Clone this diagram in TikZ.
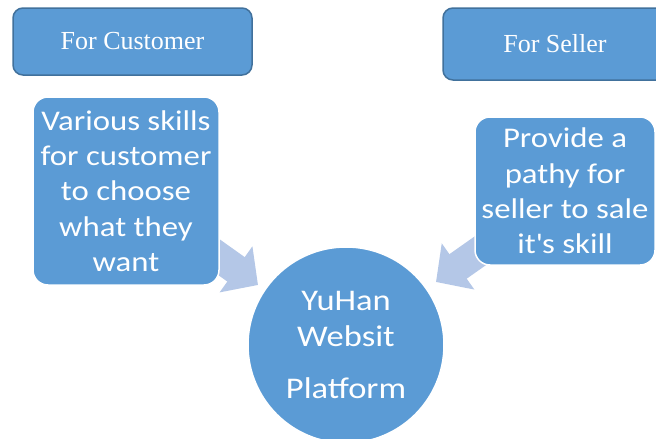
\documentclass[tikz,border=0pt]{standalone}
\usepackage{fontspec}
\setmainfont[FakeStretch=1.15]{Carlito}
\newfontfamily\headfont{Liberation Serif}
\usepackage{tikz}
\usetikzlibrary{backgrounds}
\usetikzlibrary{arrows.meta}
\definecolor{boxblue}{HTML}{5B9BD5}
\definecolor{boxedge}{HTML}{41719C}
\definecolor{arrowblue}{HTML}{B4C7E7}
\tikzset{myboxHead/.style={draw=boxedge, line width=1.5pt, fill=boxblue, rounded corners=10pt, text=white, font=\headfont\fontsize{26}{30}\selectfont}}
\tikzset{myboxText/.style={draw=white, line width=1.5pt, fill=boxblue, rounded corners=15pt, text=white, align=center, font=\fontsize{28.5}{35.3}\selectfont}}
\tikzset{myCircle/.style={circle, draw=white, line width=1.5pt, fill=boxblue, text=white, align=center, minimum size=196pt, inner sep=0pt, font=\fontsize{30}{36}\selectfont}}
\tikzset{myArrow/.style={draw=arrowblue, line width=30pt, -{Triangle[width=55pt, length=27pt]}, color=arrowblue}}

\begin{document}
\begin{tikzpicture}[x=1pt, y=-1pt]

\useasboundingbox (0,0) rectangle (656,439);

\node[myboxHead, minimum width=239pt, minimum height=67pt] (headC) at (132.5, 41.5) {For Customer};
\node[myboxHead, minimum width=224pt, minimum height=72pt] (headS) at (555, 44) {For Seller};

\node[myboxText, minimum width=186pt, minimum height=188pt, inner sep=0pt] (textC) at (126, 191) {Various skills\\for customer\\to choose\\what they\\want};
\node[myboxText, minimum width=180pt, minimum height=148pt, inner sep=0pt] (textS) at (565, 191) {Provide a\\pathy for\\seller to sale\\it\textquotesingle s skill};

\node[myCircle] (hub) at (346, 345) {YuHan\\Websit\\[16pt]Platform};

\coordinate (tipC) at (258, 285);
\coordinate (tipS) at (436, 282);

\begin{scope}[on background layer]
\draw[myArrow] (textC.center) -- (tipC);
\draw[myArrow] (textS.center) -- (tipS);
\end{scope}

\end{tikzpicture}
\end{document}
